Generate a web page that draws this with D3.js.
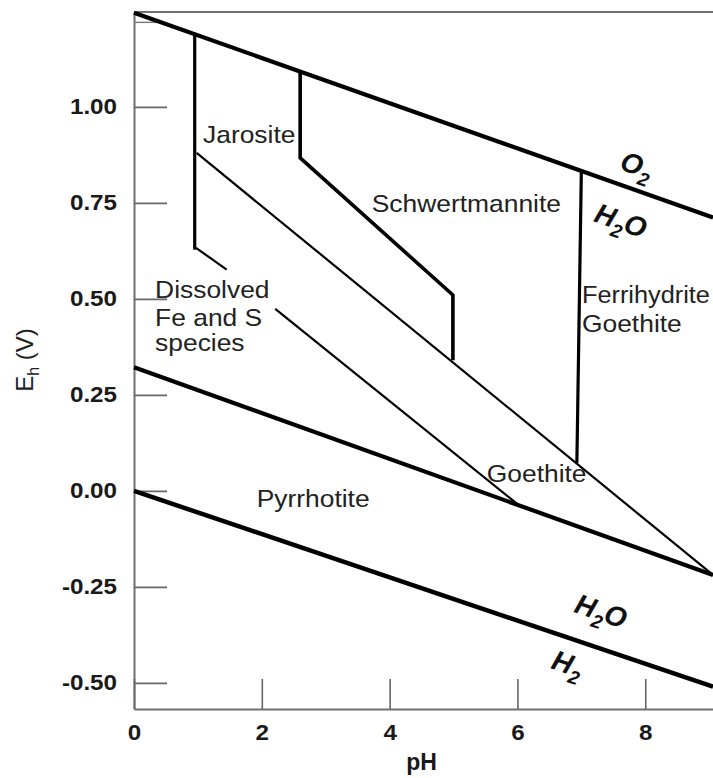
<!DOCTYPE html>
<html>
<head>
<meta charset="utf-8">
<script src="https://cdn.jsdelivr.net/npm/d3@7/dist/d3.min.js"></script>
<style>
  body { margin: 0; background: #fff; }
  svg { font-family: "Liberation Sans", Arial, sans-serif; }
</style>
</head>
<body>
<div id="chart"></div>
<script>
var w = 713;
var h = 778;

// axis ticks
var phTicks = [0, 2, 4, 6, 8];
var ehTicks = [-0.5, -0.25, 0, 0.25, 0.5, 0.75, 1.0];

// boundaries, [pH, Eh]
var o2Boundary = [[0, 1.245], [9.06, 0.712]];
var h2Boundary = [[0, 0.0], [9.06, -0.51]];
var pyrrhotiteBoundary = [[0, 0.322], [9.06, -0.219]];
var jarositeEdge = [[0.95, 1.189], [0.95, 0.628]];
var jarositeBase = [[0.98, 0.88], [9.06, -0.219]];
var schwertEdge = [[2.6, 1.092], [2.6, 0.867], [4.99, 0.51], [4.99, 0.34]];
var ferriEdge = [[7.0, 0.834], [6.93, 0.073]];
var dissolvedEdgeA = [[0.97, 0.633], [1.45, 0.576]];
var dissolvedEdgeB = [[2.21, 0.474], [5.99, -0.033]];

// field names and where they sit (pH, Eh)
var fieldNames = ["Jarosite", "Schwertmannite", "Dissolved", "Fe and S", "species",
                  "Ferrihydrite", "Goethite", "Goethite", "Pyrrhotite"];
var fieldSpots = [[1.08, 0.906], [3.72, 0.726], [0.33, 0.502], [0.33, 0.429], [0.33, 0.364],
                  [7.01, 0.489], [7.01, 0.414], [5.52, 0.023], [1.92, -0.042]];

// water lines labels: [main, subscript, tail]
var waterNames = [["O", "2", ""], ["H", "2", "O"], ["H", "2", "O"], ["H", "2", ""]];
var waterSpots = [[7.58, 0.838], [7.18, 0.703], [6.87, -0.315], [6.51, -0.461]];

var stretch = 1.1;

var x = d3.scaleLinear().domain([0, 9.06]).range([134, 713]);
var y = d3.scaleLinear().domain([-0.568, 1.247]).range([709, 12]);

var svg = d3.select("#chart").append("svg")
            .attr("width", w)
            .attr("height", h);

// top frame
svg.append("line")
   .attr("x1", x(0)).attr("x2", x(9.06))
   .attr("y1", y(1.247)).attr("y2", y(1.247))
   .attr("stroke", "#707070").attr("stroke-width", 2);

var fmt2 = d3.format(".2f");

var yAxis = d3.axisLeft(y)
              .tickValues(ehTicks)
              .tickFormat(function(d) { return fmt2(d).replace("\u2212", "-"); })
              .tickSizeInner(-33)
              .tickSizeOuter(0)
              .tickPadding(17);

var gy = svg.append("g")
            .attr("transform", "translate(" + x(0) + ",0)")
            .call(yAxis);

var xAxis = d3.axisBottom(x)
              .tickValues(phTicks)
              .tickFormat(d3.format("d"))
              .tickSizeInner(-30)
              .tickSizeOuter(0)
              .tickPadding(15);

var gx = svg.append("g")
            .attr("transform", "translate(0," + y(-0.568) + ")")
            .call(xAxis);

[gx, gy].forEach(function(g) {
  g.select(".domain").attr("stroke", "#707070").attr("stroke-width", 2);
  g.selectAll(".tick line").attr("stroke", "#666").attr("stroke-width", 1.6);
  g.selectAll(".tick text")
   .attr("fill", "#1a1a1a")
   .style("font-size", "22px")
   .style("font-weight", "bold")
   .attr("x", function() { return +d3.select(this).attr("x") / stretch; })
   .attr("transform", "scale(" + stretch + ",1)");
});

// little stray tick near the top
svg.append("line")
   .attr("x1", x(0)).attr("x2", x(0) + 23)
   .attr("y1", y(1.22)).attr("y2", y(1.22))
   .attr("stroke", "#777").attr("stroke-width", 1.4);

var line = d3.line()
             .x(function(d) { return x(d[0]); })
             .y(function(d) { return y(d[1]); });

function draw(data, width) {
  svg.append("path")
     .datum(data)
     .attr("d", line)
     .attr("fill", "none")
     .attr("stroke", "#000")
     .attr("stroke-width", width)
     .attr("stroke-linejoin", "round");
}

draw(o2Boundary, 4.2);
draw(h2Boundary, 4.5);
draw(pyrrhotiteBoundary, 4.2);
draw(jarositeEdge, 3.2);
draw(jarositeBase, 2.2);
draw(schwertEdge, 3.6);
draw(ferriEdge, 3.2);
draw(dissolvedEdgeA, 2.2);
draw(dissolvedEdgeB, 2.2);

// field labels
var fields = svg.selectAll("text.field")
   .data(fieldNames)
   .enter()
   .append("text")
   .attr("class", "field")
   .attr("fill", "#222")
   .style("font-size", "24px")
   .text(function(d) { return d; });

// stretch them a bit, but keep inside the picture
fields.attr("transform", function(d, i) {
  var px = x(fieldSpots[i][0]);
  var tw = this.getComputedTextLength();
  var s = Math.min(stretch, (w - 3 - px) / tw);
  return "translate(" + px + "," + y(fieldSpots[i][1]) + ") scale(" + s + ",1)";
});

// angle of the water lines on screen
function angle(seg) {
  var dx = x(seg[1][0]) - x(seg[0][0]);
  var dy = y(seg[1][1]) - y(seg[0][1]);
  return Math.atan2(dy, dx) * 180 / Math.PI;
}
var waterAngles = [angle(o2Boundary), angle(o2Boundary), angle(h2Boundary), angle(h2Boundary)];

var water = svg.selectAll("text.water")
               .data(waterNames)
               .enter()
               .append("text")
               .attr("class", "water")
               .attr("transform", function(d, i) {
                 return "translate(" + x(waterSpots[i][0]) + "," + y(waterSpots[i][1]) + ") rotate(" + waterAngles[i] + ")";
               })
               .attr("fill", "#111")
               .style("font-size", "28px")
               .style("font-weight", "bold")
               .style("font-style", "italic");

water.append("tspan").text(function(d) { return d[0]; });
water.append("tspan")
     .attr("dy", 8)
     .style("font-size", "19px")
     .text(function(d) { return d[1]; });
water.append("tspan")
     .attr("dy", -8)
     .text(function(d) { return d[2]; });

// axis titles
svg.append("text")
   .attr("x", (x(0) + x(9.06)) / 2 - 2)
   .attr("y", 770)
   .attr("text-anchor", "middle")
   .attr("fill", "#1a1a1a")
   .style("font-size", "23px")
   .style("font-weight", "bold")
   .text("pH");

var ylab = svg.append("text")
              .attr("transform", "translate(33,360) rotate(-90)")
              .attr("text-anchor", "middle")
              .attr("fill", "#222")
              .style("font-size", "24px");
ylab.append("tspan").text("E");
ylab.append("tspan").attr("dy", 6).style("font-size", "16px").text("h");
ylab.append("tspan").attr("dy", -6).text(" (V)");
</script>
</body>
</html>
